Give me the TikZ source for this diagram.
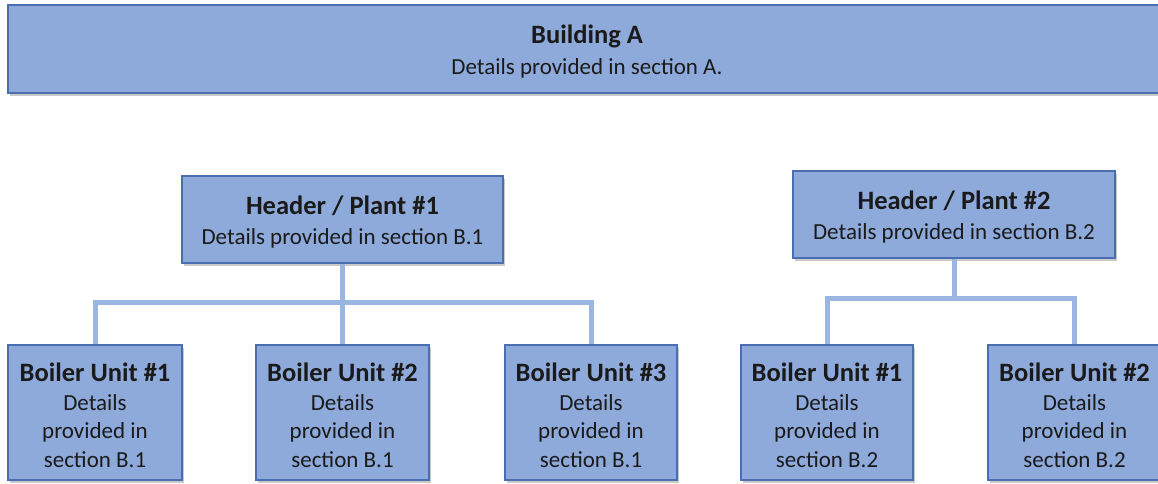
\documentclass[tikz,border=0pt]{standalone}
\usepackage{fontspec}
\setmainfont{Carlito}
\usetikzlibrary{shadows}
\definecolor{boxfill}{HTML}{8EAADB}
\definecolor{boxline}{HTML}{4A6FB0}
\definecolor{connc}{HTML}{9CB6E2}
\definecolor{txt}{HTML}{1A1A1A}
\tikzset{
  box/.style={draw=boxline, line width=1.2pt, fill=boxfill, inner sep=0pt, align=center,
    text=txt, drop shadow={shadow xshift=2pt, shadow yshift=-3pt, opacity=0.35, fill=black!60}},
  hbox/.style={box, font=\fontsize{23}{30.5}\selectfont},
  bbox/.style={box, font=\fontsize{23}{28.7}\selectfont},
  conn/.style={draw=connc, line width=5pt, line join=miter},
}
\newcommand{\ttl}[1]{{\fontsize{26.5}{28}\selectfont\bfseries\rule{0pt}{24pt}#1}}
\begin{document}
\begin{tikzpicture}[x=1pt,y=-1pt]
\useasboundingbox (0,0) rectangle (1158,483);
\node[hbox, minimum width=1158pt, minimum height=88pt] (bA) at (587,49)
  {\ttl{Building A}\\Details provided in section A.};
\node[hbox, minimum width=321pt, minimum height=87pt] (h1) at (342.5,219.5)
  {\ttl{Header / Plant \#1}\\Details provided in section B.1};
\node[hbox, minimum width=322pt, minimum height=87pt] (h2) at (954,214.5)
  {\ttl{Header / Plant \#2}\\Details provided in section B.2};
\node[bbox, minimum width=174pt, minimum height=135pt] (b1) at (95,412.5)
  {\ttl{Boiler Unit \#1}\\Details\\provided in\\section B.1};
\node[bbox, minimum width=173pt, minimum height=135pt] (b2) at (342.5,412.5)
  {\ttl{Boiler Unit \#2}\\Details\\provided in\\section B.1};
\node[bbox, minimum width=172pt, minimum height=135pt] (b3) at (591,412.5)
  {\ttl{Boiler Unit \#3}\\Details\\provided in\\section B.1};
\node[bbox, minimum width=172pt, minimum height=135pt] (b4) at (827,412.5)
  {\ttl{Boiler Unit \#1}\\Details\\provided in\\section B.2};
\node[bbox, minimum width=173pt, minimum height=135pt] (b5) at (1074.5,412.5)
  {\ttl{Boiler Unit \#2}\\Details\\provided in\\section B.2};
\coordinate (j1) at (342.5,302);
\coordinate (j2) at (954,298);
\draw[conn] (h1.south) -- (j1);
\draw[conn] (b1.north) -- (b1.north |- j1) -- (b3.north |- j1) -- (b3.north);
\draw[conn] (b2.north) -- (j1);
\draw[conn] (h2.south) -- (j2);
\draw[conn] (b4.north) -- (b4.north |- j2) -- (b5.north |- j2) -- (b5.north);
\end{tikzpicture}
\end{document}
